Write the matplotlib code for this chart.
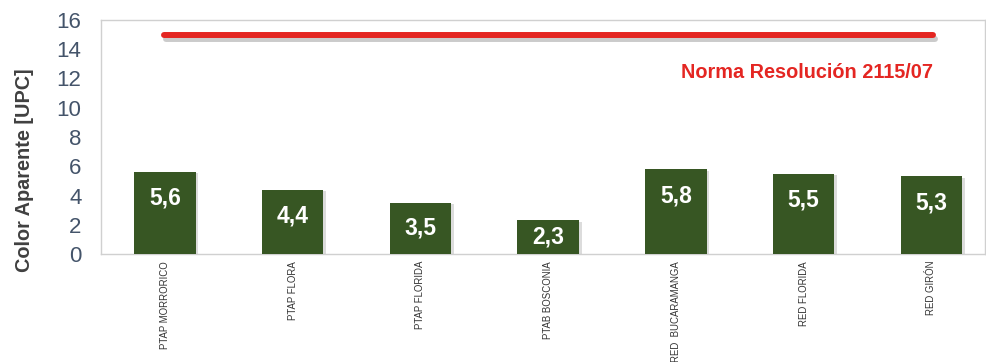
import matplotlib.pyplot as plt
import matplotlib.patheffects as pe
import numpy as np

categories = ['PTAP MORRORICO', 'PTAP FLORA', 'PTAP FLORIDA', 'PTAB BOSCONIA',
              'RED  BUCARAMANGA', 'RED FLORIDA', 'RED GIRÓN']
values = [5.6, 4.4, 3.5, 2.3, 5.8, 5.5, 5.3]
norma = 15
norma_label = 'Norma Resolución 2115/07'

fig = plt.figure(figsize=(9.86, 3.62), dpi=100)
ax = fig.add_axes([101 / 986, 1 - 254 / 362, (985 - 101) / 986, (254 - 20) / 362])

x = np.arange(len(categories))
bars = ax.bar(x, values, width=0.48, color='#375623', zorder=3,
              path_effects=[pe.SimplePatchShadow(offset=(2, -1), shadow_rgbFace='#bbbbbb', alpha=0.5), pe.Normal()])

# norma line
ax.plot([x[0] - 0.01, x[-1] + 0.01], [norma, norma], color='#e42622', lw=4.3,
        solid_capstyle='round', zorder=4,
        path_effects=[pe.SimpleLineShadow(offset=(2, -3), shadow_color='#999999', alpha=0.5), pe.Normal()])
ax.text(x[-1] + 0.01, 12.4, norma_label, color='#e42622', fontsize=14.3,
        fontweight='bold', ha='right', va='center', family='Liberation Sans')

for xi, v in zip(x, values):
    ax.text(xi, max(v - 1.8, v / 2), f'{v:.1f}'.replace('.', ','), color='white',
            fontsize=16.5, fontweight='bold', ha='center', va='center',
            family='Liberation Sans', zorder=5)

ax.set_xlim(-0.5, 6.42)
ax.set_ylim(0, 16)
ax.set_yticks(range(0, 17, 2))
ax.set_xticks(x)
ax.set_xticklabels(categories, rotation=90, fontsize=6.9, color='#333333',
                   family='Liberation Sans', va='top')
ax.tick_params(axis='y', length=0, labelsize=16, labelcolor='#44546a', pad=14)
ax.tick_params(axis='x', length=0, pad=5)
for t in ax.get_yticklabels():
    t.set_family('Liberation Sans')
ax.set_ylabel('Color Aparente [UPC]', fontsize=14.3, fontweight='bold',
              color='#404040', family='Liberation Sans')
ax.yaxis.set_label_coords(-0.076, 0.36)
for s in ax.spines.values():
    s.set_color('#d0d0d0')
    s.set_linewidth(1)

fig.savefig('out.png', dpi=100)
